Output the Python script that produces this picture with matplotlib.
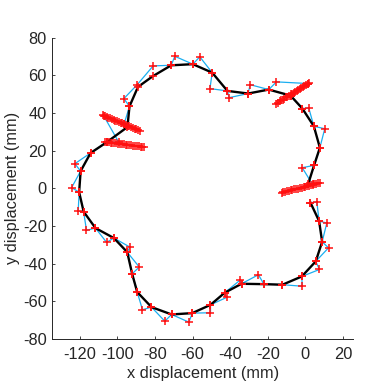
import matplotlib
matplotlib.use('Agg')
import matplotlib.pyplot as plt

plt.rcParams['font.family'] = ['Liberation Sans', 'DejaVu Sans']
plt.rcParams['axes.unicode_minus'] = False

# measured points in order (joined by the cyan line)
meas_x = [2.7, 6.1, 7.3, 11.4, 8.9, 12.3, 5.5, 7.5, -1.9, -1.7, -12.2, -22.1, -25.0,
          -34.0, -34.9, -43.0, -41.6, -50.5, -50.5, -60.2, -62.0, -71.2, -74.8, -81.9,
          -86.7, -89.5, -92.2, -88.4, -94.8, -93.4, -101.9, -105.8, -111.7, -116.5,
          -118.0, -120.9, -120.4, -124.4, -119.6, -122.7, -114.3, -105.6, -99.3, -107.3,
          -96.4, -93.6, -96.6, -89.5, -81.0, -71.4, -69.5, -59.9, -56.2, -49.6, -50.8,
          -41.5, -40.6, -30.5, -29.4, -19.5, -15.4, 1.5, -7.9, -1.6, 1.8, 4.5, 10.3,
          7.7, 4.6, -1.7, 3.8]
meas_y = [-7.6, -7.3, -17.4, -18.4, -28.4, -31.6, -38.8, -43.1, -46.8, -52.0, -51.2,
          -50.9, -45.9, -50.7, -48.9, -55.5, -57.8, -61.9, -66.1, -66.3, -71.1, -67.0,
          -70.6, -63.1, -64.5, -55.1, -45.4, -41.8, -33.9, -31.2, -26.4, -28.7, -21.1,
          -22.3, -12.4, -12.1, -2.0, 0.4, 9.2, 13.1, 18.8, 24.6, 24.5, 38.5, 34.4, 43.6,
          47.7, 55.1, 65.1, 65.4, 70.2, 66.0, 69.9, 61.5, 53.0, 51.8, 48.2, 50.4, 55.1,
          52.5, 56.6, 55.7, 49.3, 42.4, 42.7, 33.0, 31.7, 21.6, 12.2, 11.0, 2.1]

# estimated path (black line)
est_x = [2.7, 7.3, 8.9, 5.5, -1.9, -12.2, -22.1, -34.0, -43.0, -50.5, -60.2, -71.2,
         -81.9, -89.5, -92.2, -94.8, -101.9, -111.7, -118.0, -120.4, -119.6, -114.3,
         -105.6, -94.7, -93.6, -89.1, -81.2, -71.4, -59.9, -49.6, -41.5, -30.5, -19.5,
         -7.9, -1.6, 4.5, 7.7, 4.6, 1.4]
est_y = [-7.6, -17.4, -28.4, -38.8, -46.8, -51.2, -50.9, -50.7, -55.5, -61.9, -66.3,
         -67.0, -63.1, -55.1, -45.4, -33.9, -26.4, -21.1, -12.4, -2.0, 9.2, 18.8, 24.6,
         32.6, 43.6, 53.9, 59.6, 65.4, 66.0, 61.5, 51.8, 50.4, 52.5, 49.3, 42.4, 33.0,
         21.6, 12.2, 2.1]

# streaks of repeated markers
streak_a_x = [-107.6, -106.7, -105.7, -104.8, -103.9, -102.9, -102.0, -101.1, -100.2,
              -99.2, -98.3, -97.4, -96.4, -95.5, -94.6, -93.7, -92.7, -91.8, -90.9,
              -89.9, -89.0, -88.1]
streak_a_y = [38.8, 38.4, 38.0, 37.6, 37.2, 36.8, 36.4, 36.0, 35.6, 35.2, 34.8, 34.5,
              34.1, 33.7, 33.3, 32.9, 32.5, 32.1, 31.7, 31.3, 30.9, 30.5]
streak_b_x = [-106.7, -105.7, -104.7, -103.7, -102.7, -101.7, -100.7, -99.7, -98.7,
              -97.7, -96.7, -95.7, -94.7, -93.7, -92.7, -91.7, -90.7, -89.7, -88.7,
              -87.7, -86.7, -85.7]
streak_b_y = [24.6, 24.5, 24.4, 24.2, 24.1, 24.0, 23.9, 23.7, 23.6, 23.5, 23.4, 23.2,
              23.1, 23.0, 22.9, 22.7, 22.6, 22.5, 22.4, 22.2, 22.1, 22.0]
streak_c_x = [-15.4, -14.6, -13.7, -12.9, -12.1, -11.3, -10.4, -9.6, -8.8, -7.9, -7.1,
              -6.3, -5.5, -4.6, -3.8, -3.0, -2.2, -1.3, -0.5, 0.3, 1.2, 2.0]
streak_c_y = [45.1, 45.6, 46.2, 46.7, 47.2, 47.7, 48.3, 48.8, 49.3, 49.9, 50.4, 50.9,
              51.4, 52.0, 52.5, 53.0, 53.6, 54.1, 54.6, 55.1, 55.7, 56.2]
streak_d_x = [-12.7, -11.7, -10.8, -9.8, -8.8, -7.9, -6.9, -5.9, -4.9, -4.0, -3.0, -2.0,
              -1.0, -0.1, 0.9, 1.9, 2.8, 3.8, 4.8, 5.8, 6.7, 7.7]
streak_d_y = [-2.3, -2.1, -1.8, -1.6, -1.3, -1.1, -0.8, -0.6, -0.4, -0.1, 0.1, 0.4, 0.6,
              0.9, 1.1, 1.3, 1.6, 1.8, 2.1, 2.3, 2.6, 2.8]

fig = plt.figure(figsize=(3.9, 3.9), dpi=100)
ax = fig.add_axes([0.134, 0.131, 0.771, 0.772])

ax.plot(meas_x, meas_y, color='#1aaef0', lw=0.9)
ax.plot(est_x, est_y, color='k', lw=1.7)

mk = dict(ls='none', marker='+', color='#ff1010', ms=6, mew=1.1)
ax.plot(meas_x, meas_y, **mk)
ax.plot(est_x, est_y, **mk)
for sx, sy in [(streak_a_x, streak_a_y), (streak_b_x, streak_b_y),
               (streak_c_x, streak_c_y), (streak_d_x, streak_d_y)]:
    ax.plot(sx, sy, **mk)

ax.set_xlim(-134.7, 25.3)
ax.set_ylim(-80, 80)
ax.set_xticks(range(-120, 21, 20))
ax.set_yticks(range(-80, 81, 20))
ax.spines['top'].set_visible(False)
ax.spines['right'].set_visible(False)
for s in ['left', 'bottom']:
    ax.spines[s].set_color('#262626')
    ax.spines[s].set_linewidth(0.7)
ax.tick_params(direction='in', length=2.5, width=0.6, colors='#262626',
               labelsize=11.8)
ax.tick_params(axis='x', pad=6)
ax.tick_params(axis='y', pad=4)
ax.set_xlabel('x displacement (mm)', fontsize=11.8, color='#262626', labelpad=3)
ax.set_ylabel('y displacement (mm)', fontsize=11.8, color='#262626', labelpad=2)

fig.savefig('out.png', dpi=100)
